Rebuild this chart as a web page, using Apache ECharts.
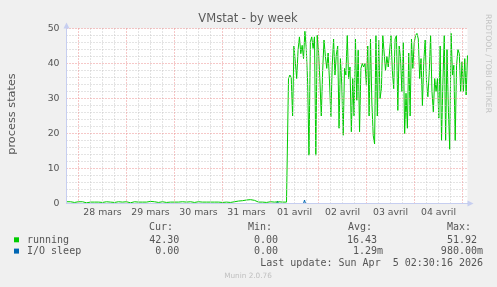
<!DOCTYPE html>
<html>
<head>
<meta charset="utf-8">
<script src="https://cdn.jsdelivr.net/npm/echarts@6/dist/echarts.min.js"></script>
<style>
html,body{margin:0;padding:0;background:#F0F0F0;}
#c{width:497px;height:287px;}
</style>
</head>
<body>
<div id="c"></div>
<script>
// x axis: hours since 28 mars 00:00
const dayLabels = ['28 mars','29 mars','30 mars','31 mars','01 avril','02 avril','03 avril','04 avril'];
const yTicks = [0, 10, 20, 30, 40, 50];

// running: hourly from hour -6 to 104 (quiet period)
const runningQuiet = [
  0.5,0.4,0.5,0.5,0.3,0.4,0.5,0.4,0.5,0.3,0.2,0.4,
  0.4,0.5,0.4,0.6,0.4,0.5,0.3,0.4,0.5,0.4,0.4,0.5,
  0.3,0.4,0.5,0.4,0.4,0.3,0.5,0.4,0.2,0.4,0.5,0.4,
  0.4,0.3,0.4,0.5,0.4,0.4,0.6,0.4,0.5,0.4,0.3,0.4,
  0.5,0.4,0.3,0.6,0.4,0.5,0.4,0.3,0.4,0.4,0.5,0.3,
  0.4,0.4,0.5,0.4,0.3,0.4,0.5,0.4,0.4,0.2,0.4,0.5,
  0.4,0.3,0.4,0.5,0.4,0.4,0.3,0.5,0.4,0.4,0.3,0.4,
  0.5,0.4,0.7,0.9,0.8,1.1,1.0,1.4,1.1,1.3,0.9,0.6,
  0.4,0.5,0.4,0.4,0.3,0.4,0.5,0.4,0.4,0.4,0.5,0.4,
  0.4,0.5,0.4
];
const quietStart = -6;

// running: busy period from hour 105 to 194.5, evenly sampled
const runningBusy = [
  35.7,36.7,36,25,45,44.5,35.7,43.8,47.6,42.8,45.2,41.4,49.2,44.3,34.7,13.8,46.2,47.6,44.3,47.6,13.8,48.1,43.3,
  35,25,38,46.7,42,38.6,43,35,24.8,39.5,47,36.7,42.5,45,21.5,41.4,33.8,19.5,38.6,
  36.7,48,35.7,39,20.5,35.7,25,47,29.5,43.8,20.5,38.6,40,39,40,33.8,45,25,47,29,19.5,17,48,25,46.7,30,32.8,48,48,38,42,39,39.5,48,38,32.8,47,48,26.6,45,41.4,32,46,20,31.5,
  21.5,43,25,47,38.6,46,48,48.6,47,35.7,41.4,28,40.5,46.7,34.7,30.5,37.5,48,32,26.2,35.7,32,35.7,24.4,45,18,34.7,48,18,44,27,15.5,48.6,36.7,39.5,18,39.5,44,42.8,32,40.5,32,41.4,31,42.3
];
const busyStart = 105, busyEnd = 194.5;

// I/O sleep: [hour, value]
const ioSleep = [[-6,0],[99,0],[99.5,0.6],[100,0],[112.5,0],[113,0.98],[113.5,0],[190,0],[190.5,0.5],[191,0],[194.5,0]];

// legend table
const legendNames = ['running', 'I/O sleep'];
const legendColors = ['#00CC00', '#0066B3'];
const colHeaders = ['Cur:', 'Min:', 'Avg:', 'Max:'];
const curVals = ['42.30', '0.00'];
const minVals = ['0.00', '0.00'];
const avgVals = ['16.43', '1.29m'];
const maxVals = ['51.92', '980.00m'];
const lastUpdate = 'Last update: Sun Apr  5 02:30:16 2026';

const runningData = [];
runningQuiet.forEach((v, i) => runningData.push([quietStart + i, v]));
const step = (busyEnd - busyStart) / (runningBusy.length - 1);
runningBusy.forEach((v, i) => runningData.push([busyStart + i * step, v]));

// grid lines (axis values)
const minorStyle = {color: '#C8C8C8', type: [1, 2], width: 1};
const majorStyle = {color: '#EC9090', type: [1, 2], width: 1};
const gridLines = [];
for (let h = 0; h <= 192; h += 6) {
  if (h % 24 !== 0) gridLines.push({xAxis: h, lineStyle: minorStyle});
}
for (let v = 2; v <= 50; v += 2) {
  if (v % 10 !== 0) gridLines.push({yAxis: v, lineStyle: minorStyle});
}
for (let h = 0; h <= 192; h += 24) gridLines.push({xAxis: h, lineStyle: majorStyle});
for (let v = 10; v <= 50; v += 10) gridLines.push({yAxis: v, lineStyle: majorStyle});

const chart = echarts.init(document.getElementById('c'), null, {renderer: 'canvas'});
const mono = '"DejaVu Sans Mono", monospace';
const sans = '"DejaVu Sans", sans-serif';
const txtColor = '#555555';
const axisBlue = '#C6CEF0';

const graphics = [];
graphics.push({type:'text', x:248, y:19, style:{text:'VMstat - by week', textAlign:'center', textVerticalAlign:'middle', fill:'#5a5a5a', font:'11.5px ' + sans}});
graphics.push({type:'text', x:11.7, y:114, rotation:Math.PI/2, style:{text:'process states', textAlign:'center', textVerticalAlign:'middle', fill:txtColor, font:'11.3px ' + sans}});
graphics.push({type:'text', x:487.5, y:14, rotation:-Math.PI/2, style:{text:'RRDTOOL / TOBI OETIKER', textAlign:'left', textVerticalAlign:'middle', fill:'#C4C4C4', font:'7.7px ' + sans}});
const headerX = [149, 248, 348, 447];
colHeaders.forEach((h, i) => graphics.push({type:'text', x:headerX[i], y:227.7, style:{text:h, textAlign:'left', textVerticalAlign:'middle', fill:txtColor, font:'10px ' + mono}}));
const rowY = [240, 251.3];
const colRight = [[179.3, 278, 377, 477], [179.3, 278, 383, 483]];
legendNames.forEach((n, r) => {
  graphics.push({type:'rect', shape:{x:14, y:rowY[r]-2.7, width:5, height:5}, style:{fill:legendColors[r]}});
  graphics.push({type:'text', x:27, y:rowY[r], style:{text:n, textAlign:'left', textVerticalAlign:'middle', fill:txtColor, font:'10px ' + mono}});
  [curVals, minVals, avgVals, maxVals].forEach((arr, c) => {
    graphics.push({type:'text', x:colRight[r][c], y:rowY[r], style:{text:arr[r], textAlign:'right', textVerticalAlign:'middle', fill:txtColor, font:'10px ' + mono}});
  });
});
graphics.push({type:'text', x:483, y:263.3, style:{text:lastUpdate, textAlign:'right', textVerticalAlign:'middle', fill:txtColor, font:'10px ' + mono}});
graphics.push({type:'text', x:248, y:276, style:{text:'Munin 2.0.76', textAlign:'center', textVerticalAlign:'middle', fill:'#C0C0C0', font:'7.3px ' + sans}});

chart.setOption({
  animation: false,
  backgroundColor: '#F0F0F0',
  grid: {left:66.5, top:28.5, width:401, height:175, show:true, backgroundColor:'#FFFFFF', borderWidth:0},
  xAxis: {
    type:'value', min:-6, max:busyEnd, interval:6, z:5,
    axisLine:{show:true, onZero:false, lineStyle:{color:axisBlue, width:1}, symbol:['none','triangle'], symbolSize:[6,6], symbolOffset:[0,3]},
    axisTick:{show:false},
    axisLabel:{color:txtColor, fontFamily:sans, fontSize:9.33, margin:5, showMinLabel:true, showMaxLabel:true,
      formatter: v => { const k = (v - 12) / 24; return (Number.isInteger(k) && k >= 0 && k < dayLabels.length) ? dayLabels[k] : ''; }},
    splitLine:{show:false}
  },
  yAxis: {
    type:'value', min:0, max:50, interval:2, z:5,
    axisLine:{show:true, onZero:false, lineStyle:{color:axisBlue, width:1}, symbol:['none','triangle'], symbolSize:[6,6], symbolOffset:[0,3]},
    axisTick:{show:false},
    axisLabel:{color:txtColor, fontFamily:sans, fontSize:9.33, margin:7,
      formatter: v => yTicks.indexOf(v) >= 0 ? String(v) : ''},
    splitLine:{show:false}
  },
  series: [
    {type:'line', name:'grid', data:[], z:1, silent:true,
     markLine:{silent:true, symbol:['none','none'], label:{show:false}, animation:false,
       lineStyle:{type:[1,2], width:1}, emphasis:{disabled:true}, data:gridLines}},
    {type:'line', name:'running', data:runningData, showSymbol:false, symbol:'none', z:3,
     lineStyle:{color:'#00CC00', width:1}, itemStyle:{color:'#00CC00'}},
    {type:'line', name:'I/O sleep', data:ioSleep, showSymbol:false, symbol:'none', z:2,
     lineStyle:{color:'#0066B3', width:1}, itemStyle:{color:'#0066B3'}}
  ],
  graphic: graphics
});
</script>
</body>
</html>
